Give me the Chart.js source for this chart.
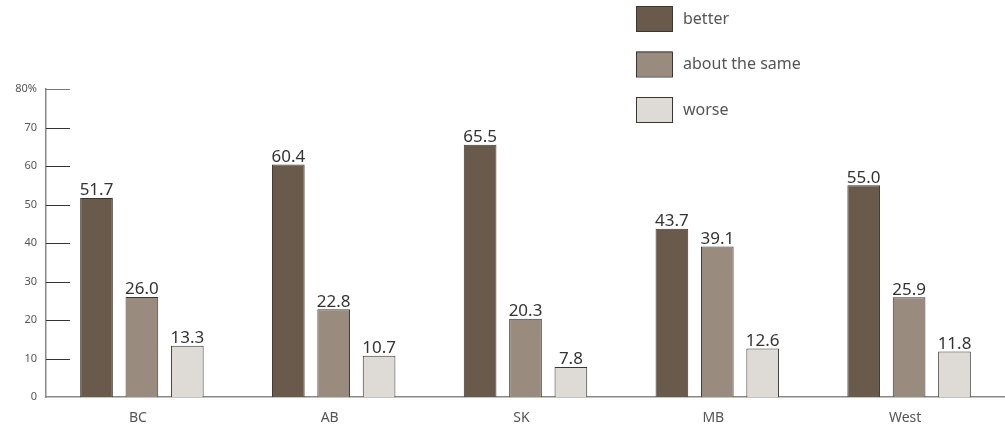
<!DOCTYPE html>
<html>
<head>
<meta charset="utf-8">
<script src="https://cdn.jsdelivr.net/npm/chart.js@4"></script>
<style>
  html, body { margin: 0; padding: 0; background: #fff; }
  #wrap { width: 1005px; height: 432px; position: relative; }
</style>
</head>
<body>
<div id="wrap"><canvas id="regionChart"></canvas></div>
<script>
const regions = ['BC', 'AB', 'SK', 'MB', 'West'];
const better = [51.7, 60.4, 65.5, 43.7, 55.0];
const aboutSame = [26.0, 22.8, 20.3, 39.1, 25.9];
const worse = [13.3, 10.7, 7.8, 12.6, 11.8];
const seriesNames = ['better', 'about the same', 'worse'];
const seriesColors = ['#695a4c', '#998c7f', '#dedad6'];

const FONT = "'Noto Sans', 'Open Sans', sans-serif";

// value labels above each bar
const barValuesPlugin = {
    id: 'barValues',
    afterDatasetsDraw: (chart) => {
        const ctx = chart.ctx;
        ctx.save();
        ctx.font = '17px ' + FONT;
        ctx.fillStyle = '#333';
        ctx.textAlign = 'center';
        ctx.textBaseline = 'bottom';
        chart.data.datasets.forEach((ds, i) => {
            chart.getDatasetMeta(i).data.forEach((bar, j) => {
                ctx.fillText(ds.data[j].toFixed(1), bar.x, bar.y + 1);
            });
        });
        ctx.restore();
    }
};

// short tick marks on the inside of the y axis
const innerTicksPlugin = {
    id: 'innerTicks',
    afterDraw: (chart) => {
        const ctx = chart.ctx;
        const y = chart.scales.y;
        const left = chart.chartArea.left;
        ctx.save();
        ctx.lineWidth = 1;
        y.ticks.forEach((t) => {
            if (t.value === 0) return;
            const py = Math.round(y.getPixelForValue(t.value)) + 0.5;
            ctx.strokeStyle = t.value === 80 ? '#777' : '#333';
            ctx.beginPath();
            ctx.moveTo(left, py);
            ctx.lineTo(left + 24, py);
            ctx.stroke();
        });
        ctx.restore();
    }
};

// stacked legend in the top right
const boxLegendPlugin = {
    id: 'boxLegend',
    afterDraw: (chart) => {
        const ctx = chart.ctx;
        ctx.save();
        ctx.font = '16px ' + FONT;
        ctx.textBaseline = 'middle';
        ctx.textAlign = 'left';
        chart.data.datasets.forEach((ds, i) => {
            const top = 6 + i * 45.5;
            ctx.fillStyle = ds.backgroundColor;
            ctx.fillRect(636, top, 36, 25);
            ctx.strokeStyle = '#3a3530';
            ctx.lineWidth = 1;
            ctx.strokeRect(636.5, top + 0.5, 36, 25);
            ctx.fillStyle = '#555';
            ctx.fillText(ds.label, 683, top + 13);
        });
        ctx.restore();
    }
};

const seriesData = [better, aboutSame, worse];

new Chart(document.getElementById('regionChart'), {
    type: 'bar',
    data: {
        labels: regions,
        datasets: seriesData.map((vals, i) => ({
            label: seriesNames[i],
            data: vals,
            backgroundColor: seriesColors[i],
            borderColor: '#3a3530',
            borderWidth: 1,
            categoryPercentage: 0.71,
            barPercentage: 0.72
        }))
    },
    options: {
        responsive: true,
        maintainAspectRatio: false,
        animation: false,
        layout: { padding: { top: 89, right: 0, left: 0, bottom: 0 } },
        plugins: {
            legend: { display: false },
            tooltip: { enabled: false }
        },
        scales: {
            x: {
                grid: { display: false, drawTicks: false },
                border: { color: '#888', width: 1.5 },
                ticks: {
                    color: '#555',
                    font: { family: FONT, size: 14 },
                    padding: 13,
                    labelOffset: -4
                },
                afterFit: (scale) => { scale.height = 35; }
            },
            y: {
                min: 0,
                max: 80,
                grid: { display: false, drawTicks: false },
                border: { color: '#888', width: 1.5 },
                ticks: {
                    stepSize: 10,
                    color: '#555',
                    font: { family: FONT, size: 11 },
                    padding: 9,
                    callback: (v) => v === 80 ? '80%' : v
                },
                afterFit: (scale) => { scale.width = 46; }
            }
        }
    },
    plugins: [barValuesPlugin, innerTicksPlugin, boxLegendPlugin]
});
</script>
</body>
</html>
